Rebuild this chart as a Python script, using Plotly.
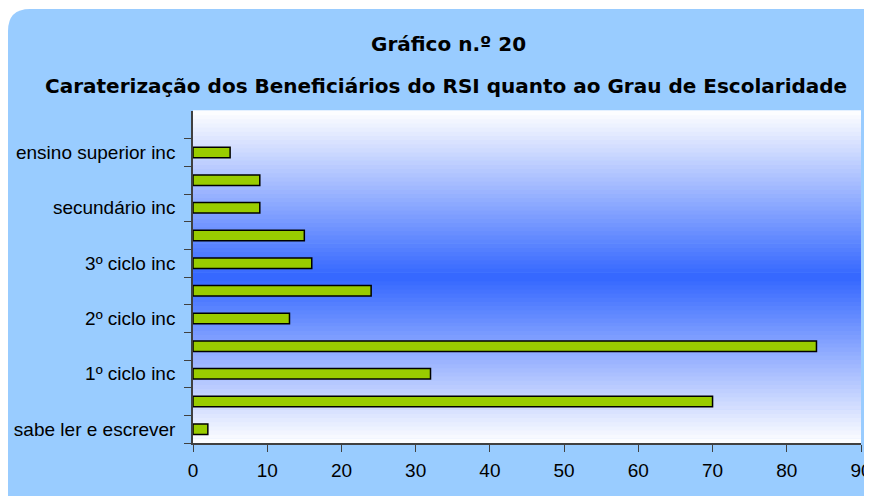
import plotly.graph_objects as go

# Dados (de baixo para cima)
categorias = ['sabe ler e escrever', '1º ciclo', '1º ciclo inc', '2º ciclo', '2º ciclo inc',
              '3º ciclo', '3º ciclo inc', 'secundário', 'secundário inc', 'ensino superior',
              'ensino superior inc']
valores = [2, 70, 32, 84, 13, 24, 16, 15, 9, 9, 5]
rotulos = ['sabe ler e escrever', '', '1º ciclo inc', '', '2º ciclo inc', '',
           '3º ciclo inc', '', 'secundário inc', '', 'ensino superior inc']

# a página tem 8px de margem no body
W, H = 864, 488
L, R, T, B = 185, 11, 103, 53
pw, ph = W - L - R, H - T - B

def px_x(x):
    return (x - L) / pw

def px_y(y):
    return (H - B - y) / ph

fig = go.Figure(go.Bar(
    x=valores, y=categorias, orientation='h',
    marker=dict(color='#99CC00', line=dict(color='black', width=1.5)),
    width=0.38
))

# Caixa azul de fundo com cantos arredondados
x0, x1, y0, y1, r = 0, 900, 1, 520, 22
path = (f"M {px_x(x0)},{px_y(y0 + r)} "
        f"Q {px_x(x0)},{px_y(y0)} {px_x(x0 + r)},{px_y(y0)} "
        f"L {px_x(x1)},{px_y(y0)} L {px_x(x1)},{px_y(y1)} L {px_x(x0)},{px_y(y1)} Z")
shapes = [dict(type='path', path=path, xref='paper', yref='paper',
               fillcolor='#99CCFF', line=dict(width=0), layer='below')]

# Degradê branco-azul-branco na área do gráfico
n = 80
for i in range(n):
    f = (i + 0.5) / n
    t = 1 - abs(2 * f - 1)
    cor = f"rgb({round(255 - 204 * t)},{round(255 - 153 * t)},255)"
    shapes.append(dict(type='rect', xref='x domain', yref='y domain',
                       x0=0, x1=1, y0=i / n, y1=(i + 1) / n + 0.002,
                       fillcolor=cor, line=dict(width=0), layer='below'))

fig.update_layout(
    width=W, height=H,
    margin=dict(l=L, r=R, t=T, b=B),
    paper_bgcolor='white',
    plot_bgcolor='rgba(0,0,0,0)',
    shapes=shapes,
    showlegend=False,
    font=dict(family='Liberation Sans, Arial', color='black'),
    annotations=[
        dict(text='<b>Gráfico n.º 20</b>', xref='paper', yref='paper',
             x=px_x(440), y=px_y(36), xanchor='center', yanchor='middle',
             showarrow=False, font=dict(family='DejaVu Sans', size=20)),
        dict(text='<b>Caraterização dos Beneficiários do RSI quanto ao Grau de Escolaridade</b>',
             xref='paper', yref='paper', x=px_x(438), y=px_y(78),
             xanchor='center', yanchor='middle', showarrow=False,
             font=dict(family='DejaVu Sans', size=20)),
    ],
    xaxis=dict(range=[0, 90], dtick=10, ticks='outside', ticklen=7,
               tickcolor='#404040', showline=True, linecolor='#404040',
               linewidth=1.5, showgrid=False, zeroline=False, automargin=False,
               ticklabelstandoff=2, tickfont=dict(size=19)),
    yaxis=dict(type='category', categoryorder='array', categoryarray=categorias,
               range=[-0.5, 11.5], tickvals=categorias, ticktext=rotulos,
               tickson='boundaries', ticks='outside', ticklen=7,
               tickcolor='#404040', showline=True, linecolor='#404040',
               linewidth=1.5, showgrid=False, ticklabelstandoff=12, automargin=False,
               tickfont=dict(size=19)),
)

fig.write_html("out.html")
